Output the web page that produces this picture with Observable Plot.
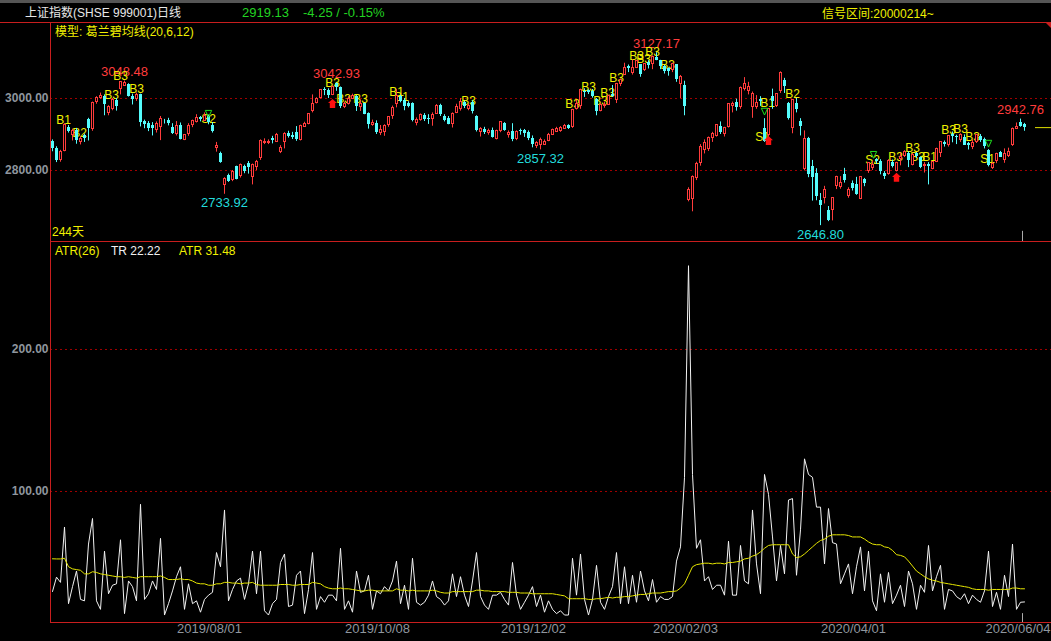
<!DOCTYPE html>
<html><head><meta charset="utf-8">
<script src="https://cdn.jsdelivr.net/npm/d3@7"></script>
<script src="https://cdn.jsdelivr.net/npm/@observablehq/plot@0.6"></script>
<style>
html,body{margin:0;padding:0;background:#000;}
#root{position:relative;width:1051px;height:641px;overflow:hidden;background:#000;font-family:"Liberation Sans","Noto Sans CJK SC",sans-serif;}
.t{position:absolute;white-space:nowrap;font-size:12px;line-height:14px;}
.ln{position:absolute;background:#c81e1e;}
svg{position:absolute;left:0;}
</style></head><body><div id="root"></div>
<script>
// ---------- DATA ----------
const open = [
2880,2862,2830,2855,2920,2898,2911,2878,2896,2941,
2915,2990,3001,3006,2960,2972,2995,3026,3035,3040,
3005,2998,3010,2935,2931,2925,2912,2920,2940,2940,
2920,2900,2925,2885,2900,2925,2935,2946,2938,2950,
2925,2862,2848,2760,2785,2775,2810,2785,2810,2820,
2782,2810,2835,2876,2876,2890,2880,2851,2878,2903,
2898,2905,2885,2922,2930,2965,2987,3000,3025,3023,
3010,3041,3030,2975,2986,2998,3005,2975,2985,2957,
2925,2930,2905,2908,2925,2950,2985,3005,2995,2985,
2985,2933,2941,2952,2945,2942,2958,2980,2950,2945,
2930,2960,2970,2990,2972,2990,2950,2906,2915,2903,
2912,2888,2909,2930,2898,2908,2888,2910,2910,2905,
2890,2868,2870,2872,2882,2898,2908,2910,2916,2925,
2920,2970,2980,3020,3022,3020,2997,2965,2980,2983,
3010,2995,3040,3066,3089,3071,3085,3094,3080,3100,
3095,3115,3105,3090,3082,3080,3094,3040,3037,2716.7,
2720,2780,2820,2858,2860,2890,2896,2921,2901,2920,
2978,2990,2975,3025,3020,2975,2975,2996,2916,2899,
3006,2980,3020,3050,2987,2918,2987,2936,2804,2890,
2812,2792,2718,2725,2690,2689,2758,2755,2790,2730,
2763,2762,2721,2775,2798,2808,2831,2826,2792,2790,
2823,2800,2831,2840,2846,2815,2848,2836,2813,2818,
2805,2825,2848,2878,2870,2900,2895,2885,2893,2875,
2864,2880,2895,2885,2855,2806,2826,2850,2830,2840,
2870,2915,2934,2927];
const high = [
2885,2866,2856,2930,2925,2915,2917,2895,2901,2945,
2990,3005,3015,3010,2980,3000,3000,3045,3048.48,3041,
3012,3015,3012,2940,2936,2933,2935,2950,2942,2945,
2930,2936,2932,2900,2930,2940,2955,2950,2960,2954,
2933,2878,2851,2780,2790,2800,2812,2818,2815,2825,
2818,2828,2885,2888,2885,2895,2903,2869,2905,2909,
2906,2922,2926,2934,2958,3010,3002,3025,3030,3027,
3035,3042.93,3032,2990,3005,3012,3008,2993,2987,2960,
2940,2938,2925,2927,2950,2979,3025,3009,3000,2991,
2988,2946,2957,2958,2955,2960,2983,2984,2955,2950,
2960,2984,3000,2993,2985,2994,2952,2919,2920,2915,
2918,2912,2936,2933,2910,2930,2910,2915,2914,2910,
2896,2880,2890,2885,2903,2915,2920,2922,2928,2927,
2970,2995,3026,3027,3024,3025,3000,2985,2990,3009,
3036,3042,3054,3098,3093,3107,3106,3094,3097,3105,
3118,3127.17,3106,3092,3085,3098,3094,3064,3048,2752,
2785,2823,2872,2885,2893,2906,2927,2935,2920,2984,
2990,2998,3032,3058,3045,3018,3008,3005,2944,2972,
3026,3012,3074,3056,2989,2997,3000,2944,2910,2892,
2828,2805,2736,2756,2700,2724,2784,2783,2806,2752,
2771,2781,2782,2778,2822,2825,2833,2830,2797,2830,
2829,2823,2847,2855,2852,2848,2850,2838,2822,2822,
2825,2862,2880,2882,2896,2907,2898,2902,2899,2878,
2885,2899,2900,2890,2858,2822,2848,2853,2860,2862,
2918,2932,2942.76,2931];
const low = [
2852,2822,2823,2852,2904,2882,2873,2871,2878,2882,
2909,2984,2998,2952,2952,2966,2965,3010,3034,3004,
2982,2992,2921,2916,2908,2896,2904,2883,2929,2924,
2900,2896,2885,2883,2895,2919,2932,2935,2936,2927,
2904,2851,2820,2733.92,2767,2769,2774,2779,2791,2790,
2760,2800,2828,2872,2872,2874,2879,2847,2860,2890,
2886,2881,2882,2920,2927,2960,2985,2999,3008,3000,
3008,3020,2972,2972,2982,2997,2964,2964,2955,2915,
2923,2900,2897,2895,2920,2942,2974,2988,2966,2974,
2935,2924,2937,2936,2928,2923,2957,2950,2935,2927,
2918,2958,2965,2972,2966,2957,2907,2893,2900,2898,
2890,2885,2905,2909,2890,2880,2883,2898,2892,2883,
2863,2861,2857.32,2870,2880,2898,2906,2906,2915,2914,
2917,2968,2970,3003,3011,3001,2952,2963,2973,2983,
3003,2986,3033,3066,3072,3065,3084,3059,3075,3082,
3080,3105,3080,3068,3062,3072,3045,3000,2952,2713,
2685.27,2772,2812,2846,2853,2878,2893,2900,2893,2918,
2960,2965,2970,3021,3010,2945,2970,2978,2878,2876,
2970,2975,3014,3014,2940,2902,2960,2896,2799,2780,
2715,2716,2646.8,2707,2658,2660,2747,2748,2765,2723,
2743,2731,2719,2755,2792,2800,2817,2788,2775,2787,
2807,2796,2813,2836,2808,2813,2833,2805,2793,2760,
2802,2822,2836,2865,2865,2877,2872,2878,2870,2857,
2858,2875,2878,2860,2810,2803,2819,2836,2820,2836,
2867,2915,2920,2909];
const close = [
2861.42,2827.80,2852.13,2925.72,2909.38,2910.74,2881.97,2887.62,2890.16,2917.80,
2987.12,3001.98,3008.15,2982.07,2976.28,2996.79,2978.88,3044.90,3043.94,3005.25,
2996.01,3011.06,2933.36,2928.23,2915.30,2917.76,2930.55,2942.19,2937.62,2931.69,
2901.95,2924.20,2886.97,2899.94,2923.28,2937.36,2944.54,2941.01,2952.34,2932.51,
2908.77,2867.84,2821.50,2777.56,2768.68,2794.55,2774.75,2814.99,2797.26,2808.91,
2815.80,2823.82,2883.10,2880.00,2880.33,2883.44,2897.43,2863.57,2902.19,2893.76,
2890.92,2886.24,2924.11,2930.15,2957.41,2985.86,2999.60,3024.74,3021.20,3008.81,
3031.24,3030.75,2978.12,2985.34,2999.28,3006.45,2977.08,2985.34,2955.43,2929.09,
2932.17,2905.19,2913.57,2924.86,2947.71,2973.66,3007.88,2991.05,2978.71,2977.33,
2938.14,2939.62,2954.38,2941.62,2940.92,2954.93,2980.05,2954.18,2939.32,2929.06,
2958.20,2975.49,2991.56,2978.60,2978.71,2964.18,2909.97,2914.82,2905.24,2909.87,
2891.34,2909.20,2933.99,2911.05,2903.64,2885.29,2906.17,2907.06,2903.19,2889.69,
2871.98,2875.81,2884.70,2878.12,2899.47,2912.01,2914.48,2917.32,2924.42,2915.70,
2967.68,2984.39,3022.42,3017.04,3017.07,3004.94,2962.75,2982.68,2981.88,3007.35,
3005.04,3040.02,3050.12,3085.20,3083.79,3083.41,3104.80,3066.89,3094.88,3092.29,
3115.57,3106.82,3090.04,3074.08,3075.50,3095.79,3052.14,3060.75,2976.53,2746.61,
2783.29,2818.09,2866.51,2875.96,2890.49,2901.67,2926.90,2906.07,2917.01,2983.62,
2984.97,2975.40,3030.15,3039.67,3031.23,3013.05,2987.93,2991.33,2880.30,2970.93,
2992.90,3011.67,3071.68,3034.51,2943.29,2996.76,2968.52,2923.49,2887.43,2789.25,
2779.64,2728.76,2702.13,2745.62,2660.17,2722.44,2781.59,2764.91,2772.20,2747.21,
2750.30,2734.52,2780.64,2763.99,2820.76,2815.37,2825.90,2796.63,2783.05,2827.28,
2811.17,2819.94,2838.49,2852.55,2827.01,2843.98,2838.50,2808.53,2815.49,2810.02,
2822.44,2860.08,2878.14,2871.52,2895.34,2894.80,2891.56,2898.05,2870.34,2868.46,
2875.42,2898.58,2883.74,2867.92,2813.77,2817.97,2846.55,2836.80,2846.22,2852.35,
2915.43,2921.40,2923.38,2919.13];
const tr = [
29.6,39.7,36,75,21,33,44,24,23,63,
81,23,17,58,28,34,35,66,14,37,
33,23,91,24,28,37,31,67,13,21,
30,40,47,17,35,21,23,15,24,27,
29,57,47,87,23,31,37,39,24,35,
58,28,58,16,13,21,24,50,56,19,
20,41,44,14,31,57,17,26,22,27,
27,23,60,17,23,15,44,29,30,41,
17,30,28,33,30,37,51,21,34,17,
53,22,20,22,27,37,26,24,20,23,
42,26,40,27,19,37,57,26,20,17,
27,27,29,24,20,50,27,17,22,27,
33,19,27,15,23,17,14,16,13,13,
53,27,56,24,13,24,48,22,17,26,
33,57,21,47,21,41,22,44,30,23,
38,22,26,24,24,26,51,61,110,259,
112,60,66,37,40,31,34,34,27,65,
27,27,62,37,35,87,49,28,112,98,
68,37,62,42,94,95,41,73,123,112,
110,89,89,49,88,64,63,35,42,49,
28,47,61,30,58,23,16,42,22,43,
21,27,34,19,44,35,17,34,29,62,
30,40,48,17,31,30,26,24,28,21,
27,24,22,30,58,19,29,17,41,26,
63,17,22,22.22];
const atr = [
52.6,52.5,52.5,53,47,45.5,45,44.5,42,42,
43.5,43,42,41.5,41,40.5,40,40,39.5,40,
39.5,39,40,40,40,40,40,40.5,39.5,38,
38,38,38.5,38,38,37,35.5,35,35,34,
34,35,35,36,36,35.5,35.5,35,35.5,35.5,
36,34.5,34,34,34,34,34,34.5,34.5,34.5,
34,34,34.5,34.5,34.5,36,35.5,35,33,32,
31.5,31.5,32,31.5,31.5,31,30.5,30,30,30.5,
30.5,30,30,30,30,30,31.5,30.5,30.5,30,
30.5,30,30,30,30,30.5,30,29,28.5,28.5,
29.5,29.5,29.5,29.5,29.5,29.5,30.5,30.5,30,30,
29.5,29.5,29.5,29.5,29,29,29,28.5,28.5,28.5,
28,28,28,28,28,28,27.5,27,26.5,24.5,
24.5,24.5,24.5,24.5,24,24,24.5,24.5,25,25.5,
25,25.5,25.5,26,26,26.5,27,27.5,27.5,28,
28.5,28.5,28.5,29,29.5,29.5,30,32,35,41,
47,48.5,49,49.5,49.5,49,49.5,49.5,49,50,
50,50.5,51,52.5,53,54.5,55.5,57.5,60,62,
62.5,62.5,62.5,62.5,62.5,56,53.5,54,56,58.5,
61,63.5,65.5,66.5,68.5,69.5,69.5,69.5,69.5,69,
68,68,68,66.5,64.5,63,62.5,62.5,61,60.5,
58.5,55.5,55,54,51,47.5,44,42,40,38.5,
37.5,37,36,35.5,35,34.5,34,33.5,33,32.5,
31.5,31,31,31,30.5,31,31,31,31,31,
32,32,31.5,31.48];
const tickIdx = [40, 82, 121, 159, 201, 243];
const tickLabels = ["2019/08/01","2019/10/08","2019/12/02","2020/02/03","2020/04/01","2020/06/04"];
const priceGrid = [2800, 3000];
const atrGrid = [100, 200];
const extHiIdx = [18, 71, 151, 242];
const extLoIdx = [43, 122, 192];
const sigText  = ["B1","B2","B3","B3","B3","S2","B3","B3","B3","B1","B1","B3","B3","B3","B3","B3","B3","B3","B3","B3","B3","B1","S1","B2","S2","B3","B3","B3","B1","B3","B3","B3","S1"];
const sigIdx   = [2.75,6.75,14.75,17,21,39,70,72.75,77,86,87.25,104,130,134,137,138.75,141,146,147.75,150,153.75,178.75,177.5,185,205,210.75,215,216.25,219.25,224,227,230,233.75];
const sigPrice = [2939,2903,3008,3061,3025,2944,3044,2997,2997,3017,3003,2994,2983,3031,2994,3014,3056,3117,3108,3128,3092,2986,2894,3011,2830,2836,2861,2836,2836,2911,2914,2892,2831];
const sellIdx = [39, 178, 205.25, 234];
const sellPrice = [2958, 2964, 2844, 2875];
const buyIdx = [70, 179, 211];
const buyPrice = [2986, 2883, 2781];

(function () {
const W = 1051, n = close.length;
const RED = "#ff3c3c", CYAN = "#54fcfc", YEL = "#f0f000", GREEN = "#22d322", GRAY = "#8f969e", GRID = "#a00000";
const idx = d3.range(n);
const upIdx = idx.filter(i => close[i] >= open[i]);
const dnIdx = idx.filter(i => close[i] < open[i]);
const sigK = d3.range(sigText.length);
const tickK = d3.range(tickIdx.length);
const lastTick = tickK.length - 1;

const arrowUp = {draw(ctx, size){ const s = Math.sqrt(size/Math.PI);
  ctx.moveTo(0,-s); ctx.lineTo(s,-s*0.1); ctx.lineTo(s*0.6,-s*0.1); ctx.lineTo(s*0.6,s);
  ctx.lineTo(-s*0.6,s); ctx.lineTo(-s*0.6,-s*0.1); ctx.lineTo(-s,-s*0.1); ctx.closePath(); }};
const triDown = {draw(ctx, size){ const s = Math.sqrt(size/Math.PI);
  ctx.moveTo(-s*0.8,-s*0.8); ctx.lineTo(s*0.8,-s*0.8); ctx.lineTo(0,s*0.9); ctx.closePath(); }};

const xDomain = [-0.5, 249.75];
const topPlot = Plot.plot({
  width: W, height: 218, marginLeft: 50, marginRight: 0, marginTop: 0, marginBottom: 0,
  x: {domain: xDomain, axis: null},
  y: {domain: [2602.78, 3208.33], axis: null},
  style: {background: "transparent", fontFamily: "Liberation Sans, sans-serif"},
  marks: [
    Plot.ruleY(priceGrid, {stroke: GRID, strokeDasharray: "2,3"}),
    Plot.text(priceGrid, {y: d => d, text: d => d.toFixed(2), frameAnchor: "left", textAnchor: "end", dx: -2, fill: GRAY, fontSize: 12, fontWeight: "bold"}),
    Plot.text(extHiIdx, {x: i => i, y: i => high[i], text: i => high[i].toFixed(2), dy: -9, fill: RED, fontSize: 13}),
    Plot.text(extLoIdx, {x: i => i, y: i => low[i], text: i => low[i].toFixed(2), dy: 9, fill: "#22dcdc", fontSize: 13}),
    Plot.text(sigK, {x: k => sigIdx[k], y: k => sigPrice[k], text: k => sigText[k], fill: YEL, fontSize: 12}),
    Plot.ruleX(upIdx, {x: i => i, y1: i => low[i], y2: i => high[i], stroke: RED}),
    Plot.ruleX(dnIdx, {x: i => i, y1: i => low[i], y2: i => high[i], stroke: CYAN}),
    Plot.rect(upIdx, {x1: i => i - 0.25, x2: i => i + 0.25, y1: i => open[i], y2: i => close[i], fill: "black", stroke: RED, strokeWidth: 1, shapeRendering: "crispEdges"}),
    Plot.rect(dnIdx, {x1: i => i - 0.375, x2: i => i + 0.375, y1: i => open[i], y2: i => close[i], fill: CYAN, shapeRendering: "crispEdges"}),
    Plot.dot(d3.range(sellIdx.length), {x: k => sellIdx[k], y: k => sellPrice[k], symbol: triDown, r: 4, stroke: "#20e020", fill: "none", strokeWidth: 1}),
    Plot.dot(d3.range(buyIdx.length), {x: k => buyIdx[k], y: k => buyPrice[k], symbol: arrowUp, r: 4.5, fill: "#ff1010", stroke: "none"}),
    Plot.ruleY([close[n-1]], {x1: n + 1.75, x2: n + 5.75, stroke: "#e0e000"}),
    Plot.ruleX([n - 1.5], {y1: 2631, y2: 2602.78, stroke: "#aaaaaa"})
  ]
});
topPlot.style.top = "23px";

const botPlot = Plot.plot({
  width: W, height: 399, marginLeft: 50, marginRight: 0, marginTop: 0, marginBottom: 19,
  x: {domain: xDomain, axis: null},
  y: {domain: [7.746, 275.35], axis: null},
  style: {background: "transparent", fontFamily: "Liberation Sans, sans-serif"},
  marks: [
    Plot.ruleY(atrGrid, {stroke: GRID, strokeDasharray: "2,3"}),
    Plot.text(atrGrid, {y: d => d, text: d => d.toFixed(2), frameAnchor: "left", textAnchor: "end", dx: -2, fill: GRAY, fontSize: 12, fontWeight: "bold"}),
    Plot.line(idx, {x: i => i, y: i => tr[i], stroke: "#f2f2f2", strokeWidth: 1}),
    Plot.line(idx, {x: i => i, y: i => atr[i], stroke: "#e6e600", strokeWidth: 1}),
    Plot.text(tickK.slice(0, lastTick), {x: k => tickIdx[k], text: k => tickLabels[k], frameAnchor: "bottom", dy: 10, dx: -3, fill: GRAY, fontSize: 13}),
    Plot.text([lastTick], {text: k => tickLabels[k], frameAnchor: "bottom-right", textAnchor: "end", dy: 10, dx: -1, fill: GRAY, fontSize: 13}),
    Plot.ruleX([n - 1.5], {y1: 14, y2: 7.746, stroke: "#aaaaaa"})
  ]
});
botPlot.style.top = "242px";

const root = document.getElementById("root");
root.appendChild(topPlot);
root.appendChild(botPlot);

function txt(s, x, y, color, size) {
  const d = document.createElement("div");
  d.className = "t"; d.textContent = s;
  d.style.left = x + "px"; d.style.top = y + "px"; d.style.color = color;
  if (size) d.style.fontSize = size + "px";
  root.appendChild(d); return d;
}
function line(x, y, w, h) {
  const d = document.createElement("div");
  d.className = "ln"; d.style.left = x + "px"; d.style.top = y + "px";
  d.style.width = w + "px"; d.style.height = h + "px";
  root.appendChild(d);
}
const strip = document.createElement("div");
strip.style.cssText = "position:absolute;left:0;top:0;width:1051px;height:3px;background:#555;";
root.appendChild(strip);

const last = close[n-1], prev = close[n-2], chg = last - prev;
txt("上证指数(SHSE 999001)日线", 25, 6, "#e8e8e8");
txt(last.toFixed(2), 242, 6, GREEN, 13);
txt(chg.toFixed(2) + " / " + (chg / prev * 100).toFixed(2) + "%", 303, 6, GREEN, 13);
txt("信号区间:20000214~", 822, 7, YEL);
txt("模型: 葛兰碧均线(20,6,12)", 55, 25, YEL);
txt("244天", 52, 225, YEL);
txt("ATR(26)", 55, 244, YEL);
txt("TR " + tr[n-1].toFixed(2), 111, 244, "#f0f0f0");
txt("ATR " + atr[n-1].toFixed(2), 179, 244, YEL);

line(0, 22, 1051, 1);
line(50, 22, 1, 600);
line(50, 241, 1001, 1);
line(50, 622, 1001, 1);
const tri = document.createElementNS("http://www.w3.org/2000/svg", "svg");
tri.setAttribute("width", "8"); tri.setAttribute("height", "8");
tri.style.cssText = "position:absolute;left:1043px;top:22px;";
tri.innerHTML = '<polygon points="2,0 8,0 8,6" fill="#c81e1e"/>';
root.appendChild(tri);
})();
</script></body></html>
